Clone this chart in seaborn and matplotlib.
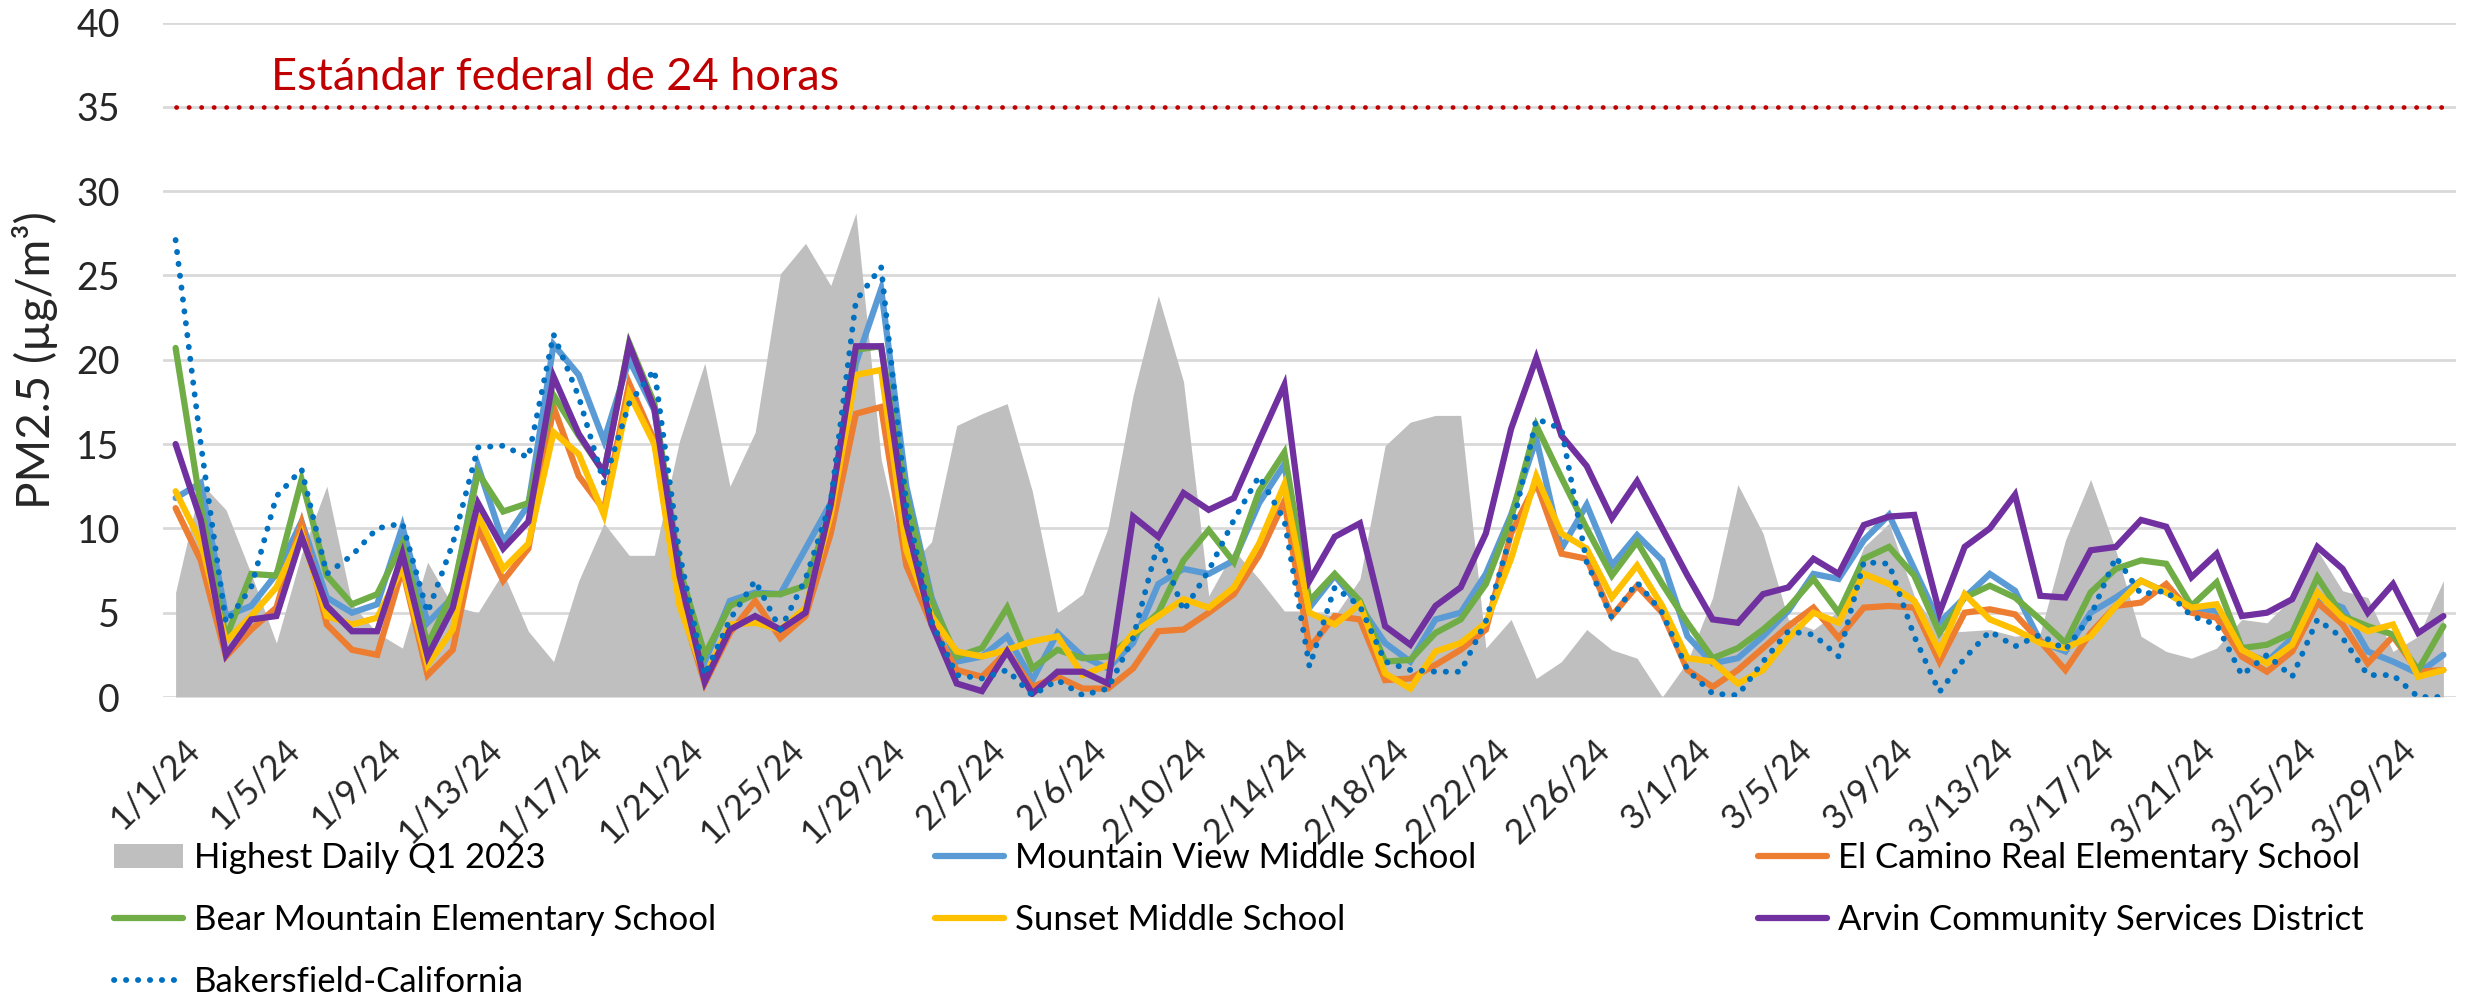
import numpy as np
import pandas as pd
import matplotlib
matplotlib.use("Agg")
import matplotlib.pyplot as plt
import matplotlib.transforms as mtransforms
from matplotlib.patches import Patch
import seaborn as sns

# ---------------- data ----------------
dates = pd.date_range("2024-01-01", "2024-03-31", freq="D")
date_labels = [f"{d.month}/{d.day}/{d.strftime('%y')}" for d in dates]

FEDERAL_STANDARD = 35

highest_2023 = [
    6.2, 12.7, 11.1, 7.3, 3.2, 8.5, 12.5, 5.5, 3.8, 2.9,
    8.0, 5.4, 5.0, 7.4, 3.9, 2.1, 6.9, 10.3, 8.4, 8.4,
    15.2, 19.8, 12.5, 15.7, 25.1, 26.9, 24.4, 28.7, 14.1, 7.6,
    9.2, 16.1, 16.8, 17.4, 12.2, 5.0, 6.1, 10.0, 17.9, 23.8,
    18.7, 6.0, 8.7, 7.0, 5.1, 5.1, 4.8, 7.0, 14.9, 16.3,
    16.7, 16.7, 2.9, 4.6, 1.1, 2.1, 4.0, 2.8, 2.3, 0.0,
    2.1, 5.9, 12.6, 9.7, 4.6, 4.0, 5.1, 8.9, 10.3, 6.0,
    3.8, 3.9, 4.0, 3.6, 3.8, 9.3, 12.9, 8.7, 3.6, 2.7,
    2.3, 2.9, 4.6, 4.4, 5.9, 8.7, 6.3, 5.9, 2.7, 3.6,
    6.9,
]
mountain_view = [
    11.8, 12.7, 4.8, 5.4, 7.3, 10.4, 5.9, 5.0, 5.5, 10.1,
    4.4, 5.9, 13.7, 9.2, 11.4, 20.9, 19.1, 15.2, 20.0, 17.0,
    7.2, 2.1, 5.7, 6.2, 6.1, 8.8, 11.5, 19.8, 24.2, 12.5,
    5.9, 2.1, 2.4, 3.6, 1.0, 3.8, 2.4, 1.7, 3.2, 6.7,
    7.6, 7.3, 8.1, 11.5, 13.8, 5.3, 7.2, 5.4, 3.2, 2.1,
    4.6, 5.0, 7.3, 10.8, 15.3, 8.8, 11.4, 7.8, 9.6, 8.1,
    3.6, 2.0, 2.3, 3.6, 5.1, 7.3, 7.0, 9.3, 10.8, 7.6,
    4.4, 5.9, 7.3, 6.3, 3.3, 2.7, 5.0, 5.9, 6.9, 6.2,
    5.3, 5.1, 2.7, 2.1, 3.5, 5.9, 5.3, 2.7, 2.1, 1.4,
    2.5,
]
el_camino = [
    11.2, 8.1, 2.4, 4.0, 5.3, 10.3, 4.3, 2.8, 2.5, 7.6,
    1.3, 2.8, 10.0, 6.9, 8.8, 17.2, 13.1, 11.1, 18.6, 15.2,
    5.7, 0.8, 3.8, 5.7, 3.5, 4.8, 9.7, 16.8, 17.2, 7.8,
    4.3, 1.6, 1.2, 2.7, 0.6, 1.2, 0.5, 0.5, 1.7, 3.9,
    4.0, 5.0, 6.1, 8.4, 11.6, 2.9, 4.8, 4.6, 1.0, 1.1,
    1.9, 2.8, 4.0, 9.7, 12.7, 8.5, 8.2, 4.8, 6.6, 5.0,
    1.6, 0.6, 1.6, 2.9, 4.2, 5.3, 3.5, 5.3, 5.4, 5.3,
    2.1, 5.0, 5.2, 4.9, 3.3, 1.6, 3.8, 5.4, 5.6, 6.7,
    5.0, 4.7, 2.4, 1.5, 2.7, 5.6, 4.3, 2.0, 3.6, 1.5,
    1.6,
]
bear_mountain = [
    20.7, 11.3, 3.5, 7.3, 7.2, 12.9, 7.2, 5.5, 6.1, 9.1,
    3.1, 6.2, 13.3, 11.0, 11.5, 17.9, 15.5, 13.3, 21.0, 17.4,
    7.6, 2.5, 5.4, 6.1, 6.1, 6.6, 11.1, 20.6, 20.8, 11.9,
    5.7, 2.4, 2.9, 5.3, 1.7, 2.8, 2.3, 2.4, 3.6, 5.0,
    8.1, 9.9, 8.0, 12.2, 14.5, 5.7, 7.3, 5.7, 2.1, 2.2,
    3.8, 4.6, 6.7, 10.6, 16.1, 13.0, 10.0, 7.2, 9.2, 6.7,
    4.4, 2.3, 2.9, 4.0, 5.3, 7.0, 5.0, 8.2, 8.9, 7.2,
    3.8, 5.9, 6.6, 5.9, 4.6, 3.2, 6.2, 7.6, 8.1, 7.9,
    5.4, 6.8, 2.9, 3.1, 3.8, 7.1, 4.8, 4.2, 3.7, 1.6,
    4.2,
]
sunset = [
    12.2, 9.2, 3.3, 4.8, 6.5, 9.7, 4.8, 4.3, 4.7, 7.7,
    1.9, 4.0, 10.8, 7.6, 9.1, 15.7, 14.4, 10.8, 18.0, 15.0,
    5.4, 1.2, 4.3, 4.4, 4.0, 5.3, 10.8, 19.1, 19.4, 8.7,
    4.8, 2.7, 2.4, 2.8, 3.3, 3.6, 1.3, 1.9, 3.8, 4.8,
    5.8, 5.3, 6.5, 9.1, 12.6, 5.0, 4.3, 5.5, 1.4, 0.5,
    2.7, 3.2, 4.4, 8.2, 13.1, 9.7, 8.8, 5.9, 7.8, 5.4,
    2.3, 2.1, 0.8, 1.6, 3.5, 5.0, 4.4, 7.3, 6.7, 5.7,
    2.7, 6.1, 4.6, 4.0, 3.2, 2.9, 3.6, 5.4, 6.9, 6.2,
    5.3, 5.5, 2.8, 2.0, 3.1, 6.2, 4.7, 3.9, 4.3, 1.2,
    1.6,
]
arvin = [
    15.0, 10.5, 2.5, 4.6, 4.8, 9.5, 5.4, 3.9, 3.9, 8.5,
    2.4, 5.3, 11.5, 8.8, 10.4, 19.0, 15.6, 13.3, 20.9, 17.1,
    7.2, 0.9, 4.0, 4.8, 4.0, 5.0, 11.4, 20.8, 20.8, 10.3,
    4.3, 0.8, 0.35, 2.7, 0.2, 1.5, 1.5, 0.8, 10.7, 9.5,
    12.1, 11.1, 11.8, 15.2, 18.5, 6.9, 9.5, 10.3, 4.2, 3.1,
    5.4, 6.5, 9.7, 15.9, 20.1, 15.5, 13.7, 10.6, 12.8, 10.0,
    7.2, 4.6, 4.4, 6.1, 6.5, 8.2, 7.3, 10.2, 10.7, 10.8,
    5.0, 8.9, 10.0, 12.0, 6.0, 5.9, 8.7, 8.9, 10.5, 10.1,
    7.1, 8.5, 4.8, 5.0, 5.8, 8.9, 7.6, 5.0, 6.7, 3.8,
    4.8,
]
bakersfield = [
    27.1, 15.0, 4.4, 6.5, 11.9, 13.5, 7.3, 8.4, 10.0, 10.3,
    5.0, 9.1, 14.8, 14.9, 14.2, 21.5, 17.8, 12.7, 17.4, 19.4,
    8.5, 1.3, 4.6, 6.9, 4.0, 7.0, 11.6, 23.5, 25.5, 11.4,
    4.5, 1.3, 1.1, 1.6, 0.1, 1.0, 0.1, 0.5, 3.5, 9.2,
    5.1, 7.5, 10.5, 13.1, 10.5, 1.8, 6.5, 5.4, 2.1, 1.6,
    1.5, 1.5, 4.5, 9.7, 16.5, 15.9, 8.0, 4.7, 6.8, 5.0,
    1.6, 0.2, 0.1, 2.1, 3.9, 3.7, 2.4, 8.0, 7.9, 3.6,
    0.3, 2.3, 3.9, 3.0, 3.7, 2.8, 4.8, 8.3, 6.1, 6.3,
    4.8, 4.3, 1.3, 2.5, 1.2, 4.6, 3.5, 1.3, 1.3, 0.0,
    0.0,
]

series_names = [
    "Mountain View Middle School",
    "El Camino Real Elementary School",
    "Bear Mountain Elementary School",
    "Sunset Middle School",
    "Arvin Community Services District",
    "Bakersfield-California",
]
series_values = [mountain_view, el_camino, bear_mountain, sunset, arvin, bakersfield]
series_colors = ["#5B9BD5", "#ED7D31", "#70AD47", "#FFC000", "#7030A0", "#0070C0"]

# ---------------- style ----------------
sns.set_theme(style="white")
plt.rcParams["font.family"] = ["Lato", "DejaVu Sans"]
plt.rcParams["text.color"] = "#000000"

W, H = 2466, 994
fig = plt.figure(figsize=(W / 100, H / 100), dpi=100)
ax_left, ax_right, ax_top, ax_bottom = 163, 2456, 22.5, 697
ax = fig.add_axes([ax_left / W, 1 - ax_bottom / H, (ax_right - ax_left) / W, (ax_bottom - ax_top) / H])

x = np.arange(len(date_labels))

# grey area
ax.fill_between(x, 0, highest_2023, color="#BFBFBF", linewidth=0, zorder=1)

# lines
line_handles = {}
for i, (name, vals, col) in enumerate(zip(series_names, series_values, series_colors)):
    df = pd.DataFrame({"day": x, "value": vals})
    sns.lineplot(data=df, x="day", y="value", color=col, linewidth=4.5, ax=ax,
                 zorder=3 + i, label=name, legend=False)
    ln = ax.get_lines()[-1]
    ln.set_solid_capstyle("round")
    ln.set_solid_joinstyle("miter")
    if name == "Bakersfield-California":
        ln.set_linestyle((0, (0.05, 2.0)))
        ln.set_dash_capstyle("round")
        ln.set_linewidth(4.2)
    line_handles[name] = ln

# federal standard line
std_df = pd.DataFrame({"day": x, "value": np.full(len(x), FEDERAL_STANDARD)})
sns.lineplot(data=std_df, x="day", y="value", color="#C00000", linewidth=3.4, ax=ax, zorder=2, legend=False)
std_line = ax.get_lines()[-1]
std_line.set_linestyle((0, (0.05, 2.6)))
std_line.set_dash_capstyle("round")

ax.text(3.8, 36.0, "Estándar federal de 24 horas", color="#C00000", fontsize=32.5,
        ha="left", va="baseline", zorder=10)

# axes
ax.set_xlim(-0.5, len(x) - 0.5)
ax.set_ylim(0, 40)
ax.set_yticks(np.arange(0, 41, 5))
ax.yaxis.grid(True, color="#D9D9D9", linewidth=2.0)
ax.xaxis.grid(False)
ax.set_axisbelow(True)
for s in ax.spines.values():
    s.set_visible(False)

ax.tick_params(axis="y", length=0, pad=31, labelsize=27)
ax.set_xticks(x[::4])
ax.set_xticklabels(date_labels[::4], rotation=45, ha="right", va="top",
                   rotation_mode="anchor", fontsize=25)
ax.tick_params(axis="x", length=0, pad=26)
offset = mtransforms.ScaledTranslation(7 / 100, 0, fig.dpi_scale_trans)
for lab in ax.get_xticklabels():
    lab.set_transform(lab.get_transform() + offset)

ax.set_xlabel("")
ax.set_ylabel("PM2.5 (µg/m³)", fontsize=33)
ax.yaxis.set_label_coords((58 - ax_left) / (ax_right - ax_left), 0.5)

# legend: three columns laid out like the original
grey_patch = Patch(facecolor="#BFBFBF", edgecolor="none")
cols = [
    [(grey_patch, "Highest Daily Q1 2023"),
     (line_handles["Bear Mountain Elementary School"], "Bear Mountain Elementary School"),
     (line_handles["Bakersfield-California"], "Bakersfield-California")],
    [(line_handles["Mountain View Middle School"], "Mountain View Middle School"),
     (line_handles["Sunset Middle School"], "Sunset Middle School")],
    [(line_handles["El Camino Real Elementary School"], "El Camino Real Elementary School"),
     (line_handles["Arvin Community Services District"], "Arvin Community Services District")],
]
col_x = [114, 935, 1758]
for entries, xpx in zip(cols, col_x):
    fig.legend([e[0] for e in entries], [e[1] for e in entries],
               loc="upper left", bbox_to_anchor=(xpx / W, 1 - 842 / H),
               frameon=False, fontsize=25, handlelength=2.0, handletextpad=0.3,
               borderpad=0, borderaxespad=0, labelspacing=0.86, handleheight=0.68)

fig.savefig("out.png", dpi=100)
